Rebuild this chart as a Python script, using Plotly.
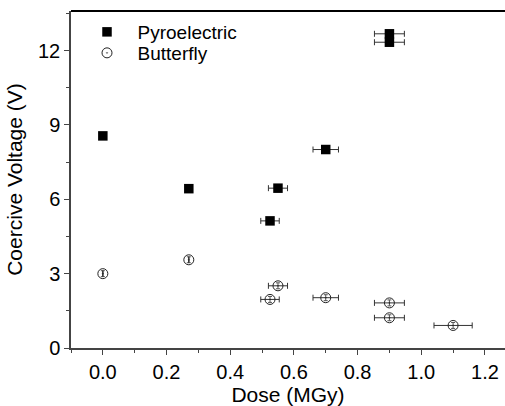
import plotly.graph_objects as go

# Data
pyro_dose = [0.0, 0.27, 0.55, 0.525, 0.70, 0.90, 0.90]
pyro_volt = [8.56, 6.43, 6.45, 5.13, 8.01, 12.68, 12.34]
pyro_dose_err = [0.0, 0.0, 0.03, 0.029, 0.04, 0.047, 0.047]

bf_dose = [0.0, 0.27, 0.55, 0.525, 0.70, 0.90, 0.90, 1.10]
bf_volt = [3.0, 3.56, 2.51, 1.96, 2.03, 1.82, 1.22, 0.91]
bf_dose_err = [0.0, 0.0, 0.03, 0.029, 0.04, 0.047, 0.047, 0.06]
bf_volt_err = [0.12, 0.12, 0.12, 0.12, 0.12, 0.12, 0.12, 0.12]

x_ticks = [0.0, 0.2, 0.4, 0.6, 0.8, 1.0, 1.2]
x_tick_labels = ["0.0", "0.2", "0.4", "0.6", "0.8", "1.0", "1.2"]
y_ticks = [0, 3, 6, 9, 12]
y_tick_labels = ["0", "3", "6", "9", "12"]

FONT = "Liberation Sans, Arial, sans-serif"
W, H = 505, 406
ML, MR, MT, MB = 71, 0, 11, 58
PW, PH = W - ML - MR, H - MT - MB

fig = go.Figure()
fig.add_trace(go.Scatter(
    x=pyro_dose, y=pyro_volt, mode="markers", name="\u00a0\u00a0Pyroelectric",
    marker=dict(symbol="square", size=9.5, color="black", line=dict(width=0)),
    error_x=dict(type="data", array=pyro_dose_err, color="#333", thickness=1, width=3),
    legend="legend",
))
fig.add_trace(go.Scatter(
    x=bf_dose, y=bf_volt, mode="markers", name="\u00a0\u00a0Butterfly",
    marker=dict(symbol="circle-open-dot", size=10, color="#222", line=dict(width=1)),
    error_x=dict(type="data", array=bf_dose_err, color="#333", thickness=1, width=3),
    error_y=dict(type="data", array=bf_volt_err, color="#555", thickness=1, width=2),
    legend="legend2",
))

axis_common = dict(
    showgrid=False, zeroline=False, showline=True, linecolor="#444", linewidth=1.5,
    ticks="outside", ticklen=5, tickwidth=1.2, tickcolor="#444",
    tickfont=dict(family=FONT, size=20, color="black"),
    automargin=False,
)

fig.update_xaxes(
    range=[-0.1, 1.263], tickvals=x_ticks, ticktext=x_tick_labels,
    minor=dict(dtick=0.1, tick0=0, ticks="outside", ticklen=3, tickcolor="#444"),
    title=dict(text="Dose (MGy)", font=dict(family=FONT, size=21, color="black"), standoff=8),
    **axis_common,
)
fig.update_yaxes(
    range=[0, 13.6], tickvals=y_ticks, ticktext=y_tick_labels,
    minor=dict(dtick=1.5, tick0=0, ticks="outside", ticklen=3, tickcolor="#444"),
    title=dict(text="Coercive Voltage (V)", font=dict(family=FONT, size=21, color="black"), standoff=10),
    **axis_common,
)

leg_common = dict(
    xref="paper", yref="paper", xanchor="left", yanchor="middle",
    bgcolor="rgba(0,0,0,0)", borderwidth=0,
    font=dict(family=FONT, size=19, color="black"),
)
fig.update_layout(
    width=W, height=H,
    margin=dict(l=ML, r=MR, t=MT, b=MB, autoexpand=False),
    paper_bgcolor="white", plot_bgcolor="white",
    showlegend=True,
    legend=dict(x=(87 - ML) / PW, y=(H - MB - 32) / PH, **leg_common),
    legend2=dict(x=(87 - ML) / PW, y=(H - MB - 53) / PH, **leg_common),
    shapes=[dict(type="line", xref="paper", yref="paper", x0=0, x1=1, y0=1, y1=1,
                 line=dict(color="black", width=2.2))],
)

fig.write_html("out.html")
